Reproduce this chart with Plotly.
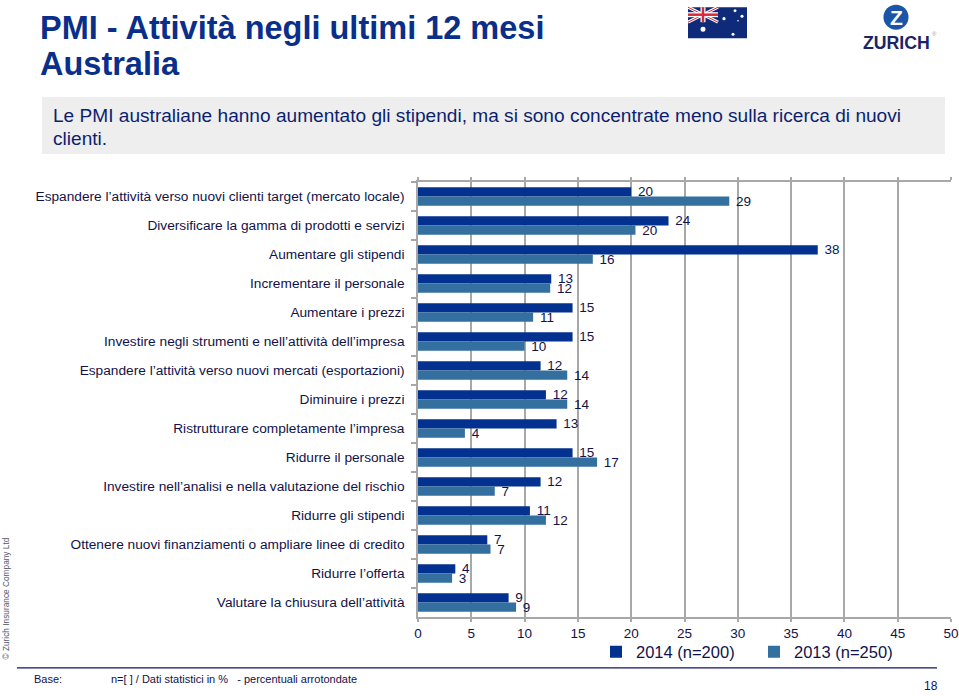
import plotly.graph_objects as go

categories = [
    "Espandere l’attività verso nuovi clienti target (mercato locale)",
    "Diversificare la gamma di prodotti e servizi",
    "Aumentare gli stipendi",
    "Incrementare il personale",
    "Aumentare i prezzi",
    "Investire negli strumenti e nell’attività dell’impresa",
    "Espandere l’attività verso nuovi mercati (esportazioni)",
    "Diminuire i prezzi",
    "Ristrutturare completamente l’impresa",
    "Ridurre il personale",
    "Investire nell’analisi e nella valutazione del rischio",
    "Ridurre gli stipendi",
    "Ottenere nuovi finanziamenti o ampliare linee di credito",
    "Ridurre l’offerta",
    "Valutare la chiusura dell’attività",
]
values_2014 = [20.0, 23.5, 37.5, 12.5, 14.5, 14.5, 11.5, 12.0, 13.0, 14.5, 11.5, 10.5, 6.5, 3.5, 8.5]
values_2013 = [29.2, 20.4, 16.4, 12.4, 10.8, 10.0, 14.0, 14.0, 4.4, 16.8, 7.2, 12.0, 6.8, 3.2, 9.2]
labels_2014 = [20, 24, 38, 13, 15, 15, 12, 12, 13, 15, 12, 11, 7, 4, 9]
labels_2013 = [29, 20, 16, 12, 11, 10, 14, 14, 4, 17, 7, 12, 7, 3, 9]
x_ticks = [0, 5, 10, 15, 20, 25, 30, 35, 40, 45, 50]

W, H = 959, 696
L, R, T, B = 418, 951, 182, 617.5
NAVY = "#12124a"
BLUE_2014 = "#03318f"
BLUE_2013 = "#336f9f"
GRID = "#a8a8a8"
FONT = "Liberation Sans, Arial, sans-serif"


def px(x):
    return (x - L) / (R - L)


def py(y):
    return (B - y) / (B - T)


fig = go.Figure()
for name, vals, labs, col in [
    ("2014 (n=200)", values_2014, labels_2014, BLUE_2014),
    ("2013 (n=250)", values_2013, labels_2013, BLUE_2013),
]:
    fig.add_trace(go.Bar(
        y=categories, x=vals, name=name, orientation="h",
        marker=dict(color=col, line=dict(width=0)),
        text=[f"\u00a0{v}" for v in labs],
        textposition="outside", cliponaxis=False, constraintext="none",
        textfont=dict(family=FONT, size=13.5, color=NAVY),
        hoverinfo="x+y",
    ))

shapes = []
annots = []


def rect(x0, y0, x1, y1, fill):
    shapes.append(dict(type="rect", xref="paper", yref="paper", x0=px(x0), x1=px(x1),
                       y0=py(y1), y1=py(y0), fillcolor=fill, line=dict(width=0), layer="below"))


def line(x0, y0, x1, y1, col, w):
    shapes.append(dict(type="line", xref="paper", yref="paper", x0=px(x0), x1=px(x1),
                       y0=py(y0), y1=py(y1), line=dict(color=col, width=w), layer="above"))


def dot(cx, cy, r, fill):
    shapes.append(dict(type="circle", xref="paper", yref="paper", x0=px(cx - r), x1=px(cx + r),
                       y0=py(cy + r), y1=py(cy - r), fillcolor=fill, line=dict(width=0), layer="above"))


def text(x, y, s, size, col, anchor="left", bold=False, angle=0):
    annots.append(dict(xref="paper", yref="paper", x=px(x), y=py(y), text=f"<b>{s}</b>" if bold else s,
                       showarrow=False, xanchor=anchor, yanchor="middle", textangle=angle,
                       font=dict(family=FONT, size=size, color=col)))


# header
text(38, 28, "PMI - Attività negli ultimi 12 mesi", 32.5, "#0a2f8a", bold=True)
text(38, 64, "Australia", 32.5, "#0a2f8a", bold=True)
rect(42, 97, 945, 154, "#eeeeee")
text(51, 115, "Le PMI australiane hanno aumentato gli stipendi, ma si sono concentrate meno sulla ricerca di nuovi", 19.1, "#0c1f6e")
text(51, 138, "clienti.", 19.1, "#0c1f6e")

# flag
rect(688, 7, 747, 38, "#0f2a78")
line(688, 7, 718, 22, "#ffffff", 3)
line(688, 22, 718, 7, "#ffffff", 3)
line(688, 7, 718, 22, "#d8283c", 1)
line(688, 22, 718, 7, "#d8283c", 1)
line(703, 7, 703, 22, "#ffffff", 5)
line(688, 14.5, 718, 14.5, "#ffffff", 5)
line(703, 7, 703, 22, "#d8283c", 2.5)
line(688, 14.5, 718, 14.5, "#d8283c", 2.5)
for cx, cy, r in [(703, 29, 2.5), (724, 18.5, 1.6), (735, 10.5, 1.5), (742, 16, 1.5), (738, 20.5, 0.8), (733, 34, 1.5)]:
    dot(cx, cy, r, "#ffffff")

# logo
dot(896, 17, 12.5, "#1a55a8")
text(896, 17, "Z", 21, "#ffffff", anchor="center", bold=True)
text(896, 43, "ZURICH", 17.7, "#1b2466", anchor="center", bold=True)
text(934, 34, "®", 6, "#999999", anchor="center")

# footer
line(17, 668.5, 937, 668.5, "#12126a", 1.3)
text(32, 680, "Base:", 11, NAVY)
text(109, 680, "n=[ ] / Dati statistici in %&nbsp;&nbsp; - percentuali arrotondate", 11, NAVY)
text(931, 687, "18", 12, NAVY, anchor="center")
text(6, 599, "© Zurich Insurance Company Ltd", 8.3, "#55586e", anchor="center", angle=-90)

fig.update_layout(
    width=W, height=H, autosize=False,
    margin=dict(l=L, r=W - R, t=T, b=H - B, autoexpand=False),
    paper_bgcolor="white", plot_bgcolor="white",
    barmode="group", bargap=0.355, bargroupgap=0,
    font=dict(family=FONT, size=13, color=NAVY),
    shapes=shapes, annotations=annots,
    legend=dict(orientation="h", x=px(596), xanchor="left", y=py(635), yanchor="top",
                font=dict(family=FONT, size=16.5, color=NAVY), entrywidth=113, entrywidthmode="pixels",
                bgcolor="rgba(0,0,0,0)", traceorder="normal", itemclick=False, itemdoubleclick=False),
    showlegend=True,
    xaxis=dict(range=[0, 50], tickvals=x_ticks, showgrid=True, gridcolor=GRID, gridwidth=1.5,
               showline=True, linecolor=GRID, linewidth=1.5, mirror="ticks", ticks="outside",
               ticklen=3, tickcolor=GRID, tickwidth=1.5, zeroline=False,
               tickfont=dict(family=FONT, size=13.5, color=NAVY)),
    yaxis=dict(autorange="reversed", tickson="boundaries", ticks="outside", ticklen=5, tickcolor=GRID,
               tickwidth=1.5, showline=True, linecolor=GRID, linewidth=1.5, showgrid=False,
               ticklabelstandoff=9, tickfont=dict(family=FONT, size=13.7, color=NAVY)),
)
fig.write_html("out.html", post_script="document.body.style.margin='0';", config=dict(displayModeBar=False))
